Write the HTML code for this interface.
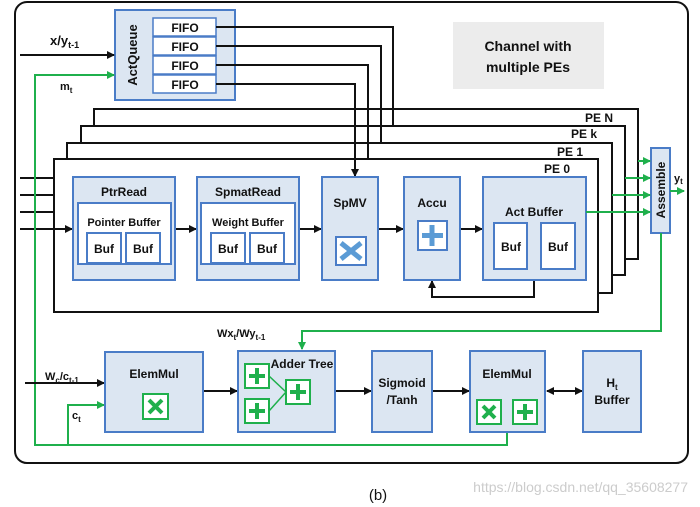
<!DOCTYPE html>
<html><head><style>body{margin:0;background:#fff}svg{display:block}text{font-family:"Liberation Sans",sans-serif;font-weight:bold;fill:#111}</style></head><body>
<svg width="700" height="507" viewBox="0 0 700 507" xmlns="http://www.w3.org/2000/svg">
<defs>
<marker id="a" markerWidth="8" markerHeight="8" refX="7" refY="4" orient="auto" markerUnits="userSpaceOnUse"><path d="M0,0L8,4L0,8z" fill="#111"/></marker>
<marker id="g" markerWidth="8" markerHeight="8" refX="7" refY="4" orient="auto" markerUnits="userSpaceOnUse"><path d="M0,0L8,4L0,8z" fill="#1fb04c"/></marker>
<marker id="s" markerWidth="8" markerHeight="8" refX="1" refY="4" orient="auto" markerUnits="userSpaceOnUse"><path d="M8,0L0,4L8,8z" fill="#111"/></marker>
</defs>
<rect x="15" y="2" width="673" height="461" rx="12" fill="#fff" stroke="#111" stroke-width="2"/>
<rect x="453" y="22" width="151" height="67" fill="#ececec"/>
<text x="528" y="51" font-size="14" text-anchor="middle">Channel with</text>
<text x="528" y="72" font-size="14" text-anchor="middle">multiple PEs</text>
<!-- ActQueue -->
<rect x="115" y="10" width="120" height="90" fill="#dce6f2" stroke="#4a7cc7" stroke-width="2"/>
<text transform="translate(137,55) rotate(-90)" font-size="13" text-anchor="middle">ActQueue</text>
<g fill="#fff" stroke="#4a7cc7" stroke-width="1.5">
<rect x="153" y="18" width="63" height="18"/><rect x="153" y="37" width="63" height="18"/><rect x="153" y="56" width="63" height="18"/><rect x="153" y="75" width="63" height="18"/></g>
<g font-size="12" text-anchor="middle"><text x="185" y="32">FIFO</text><text x="185" y="51">FIFO</text><text x="185" y="70">FIFO</text><text x="185" y="89">FIFO</text></g>
<text x="50" y="45" font-size="13">x/y<tspan font-size="9" dy="3">t-1</tspan></text>
<line x1="20" y1="55" x2="114" y2="55" stroke="#111" stroke-width="2" marker-end="url(#a)"/>
<text x="60" y="90" font-size="11">m<tspan font-size="8" dy="3">t</tspan></text>
<!-- PE stack -->
<g fill="#fff" stroke="#111" stroke-width="2">
<rect x="94" y="109" width="544" height="150"/>
<rect x="81" y="126" width="544" height="149"/>
<rect x="67" y="143" width="545" height="150"/>
<rect x="54" y="159" width="544" height="153"/></g>
<g font-size="12"><text x="585" y="122">PE N</text><text x="571" y="138">PE k</text><text x="557" y="156">PE 1</text><text x="544" y="173">PE 0</text></g>
<g fill="none" stroke="#111" stroke-width="2">
<polyline points="216,27 393,27 393,126"/><polyline points="216,46 381,46 381,143"/><polyline points="216,65 368,65 368,159"/>
<polyline points="216,84 355,84 355,176" marker-end="url(#a)"/>
<line x1="20" y1="178" x2="54" y2="178"/><line x1="20" y1="195" x2="54" y2="195"/><line x1="20" y1="212" x2="54" y2="212"/>
<line x1="20" y1="229" x2="72" y2="229" marker-end="url(#a)"/>
<line x1="175" y1="229" x2="196" y2="229" marker-end="url(#a)"/>
<line x1="299" y1="229" x2="321" y2="229" marker-end="url(#a)"/>
<line x1="378" y1="229" x2="403" y2="229" marker-end="url(#a)"/>
<line x1="460" y1="229" x2="482" y2="229" marker-end="url(#a)"/>
<polyline points="534,280 534,297 432,297 432,281" marker-end="url(#a)"/>
</g>
<g fill="#dce6f2" stroke="#4a7cc7" stroke-width="2">
<rect x="73" y="177" width="102" height="103"/><rect x="197" y="177" width="102" height="103"/>
<rect x="322" y="177" width="56" height="103"/><rect x="404" y="177" width="56" height="103"/><rect x="483" y="177" width="103" height="103"/></g>
<g fill="#fff" stroke="#4a7cc7" stroke-width="2">
<rect x="78" y="203" width="93" height="61"/><rect x="201" y="203" width="94" height="61"/>
<rect x="87" y="233" width="34" height="30"/><rect x="126" y="233" width="34" height="30"/>
<rect x="211" y="233" width="34" height="30"/><rect x="250" y="233" width="34" height="30"/>
<rect x="494" y="223" width="33" height="46"/><rect x="541" y="223" width="34" height="46"/>
<rect x="336" y="237" width="30" height="28"/><rect x="418" y="221" width="29" height="29"/></g>
<path d="M341,243L361,259M361,243L341,259" stroke="#5b9bd5" stroke-width="5"/>
<path d="M432,225V246M422,235.5H443" stroke="#5b9bd5" stroke-width="5"/>
<g font-size="12" text-anchor="middle">
<text x="124" y="196">PtrRead</text><text x="248" y="196">SpmatRead</text><text x="350" y="207">SpMV</text><text x="432" y="207">Accu</text><text x="534" y="216">Act Buffer</text>
<text x="124" y="226" font-size="11">Pointer Buffer</text><text x="248" y="226" font-size="11">Weight Buffer</text>
<text x="104" y="253">Buf</text><text x="143" y="253">Buf</text><text x="228" y="253">Buf</text><text x="267" y="253">Buf</text><text x="511" y="251">Buf</text><text x="558" y="251">Buf</text></g>
<!-- Assemble -->
<rect x="651" y="148" width="19" height="85" fill="#dce6f2" stroke="#4a7cc7" stroke-width="2"/>
<text transform="translate(665,190) rotate(-90)" font-size="12" text-anchor="middle">Assemble</text>
<g stroke="#1fb04c" stroke-width="2" fill="none">
<line x1="638" y1="161" x2="650" y2="161" marker-end="url(#g)"/><line x1="625" y1="178" x2="650" y2="178" marker-end="url(#g)"/>
<line x1="612" y1="195" x2="650" y2="195" marker-end="url(#g)"/><line x1="586" y1="212" x2="650" y2="212" marker-end="url(#g)"/>
<line x1="670" y1="191" x2="684" y2="191" marker-end="url(#g)"/>
<polyline points="661,233 661,331 302,331 302,349" marker-end="url(#g)"/>
<polyline points="114,75 35,75 35,445 507,445 507,432" marker-start="url(#g)" style="marker-start:none"/>
<line x1="35" y1="75" x2="114" y2="75" marker-end="url(#g)"/>
<polyline points="68,445 68,405 104,405" marker-end="url(#g)"/>
</g>
<text x="674" y="182" font-size="11">y<tspan font-size="8" dy="2">t</tspan></text>
<!-- bottom row -->
<text x="217" y="337" font-size="11">Wx<tspan font-size="8" dy="3">t</tspan><tspan dy="-3">/Wy</tspan><tspan font-size="8" dy="3">t-1</tspan></text>
<text x="45" y="380" font-size="11">W<tspan font-size="8" dy="3">c</tspan><tspan dy="-3">/c</tspan><tspan font-size="8" dy="3">t-1</tspan></text>
<text x="72" y="419" font-size="11">c<tspan font-size="8" dy="3">t</tspan></text>
<g fill="none" stroke="#111" stroke-width="2">
<line x1="25" y1="383" x2="104" y2="383" marker-end="url(#a)"/>
<line x1="203" y1="391" x2="237" y2="391" marker-end="url(#a)"/>
<line x1="335" y1="391" x2="371" y2="391" marker-end="url(#a)"/>
<line x1="432" y1="391" x2="469" y2="391" marker-end="url(#a)"/>
<line x1="547" y1="391" x2="582" y2="391" marker-start="url(#s)" marker-end="url(#a)"/>
</g>
<g fill="#dce6f2" stroke="#4a7cc7" stroke-width="2">
<rect x="105" y="352" width="98" height="80"/><rect x="238" y="351" width="97" height="81"/><rect x="372" y="351" width="60" height="81"/><rect x="470" y="351" width="75" height="81"/><rect x="583" y="351" width="58" height="81"/></g>
<g fill="#fff" stroke="#1fb04c" stroke-width="2">
<rect x="143" y="394" width="25" height="25"/><rect x="245" y="364" width="24" height="24"/><rect x="245" y="399" width="24" height="24"/><rect x="286" y="380" width="24" height="24"/>
<rect x="477" y="400" width="24" height="24"/><rect x="513" y="400" width="24" height="24"/></g>
<g stroke="#1fb04c" stroke-width="4" fill="none">
<path d="M149,400L162,413M162,400L149,413"/><path d="M483,406L495,418M495,406L483,418"/>
<path d="M257,368V384M249,376H265"/><path d="M257,403V419M249,411H265"/><path d="M298,384V400M290,392H306"/><path d="M525,404V420M517,412H533"/>
</g>
<path d="M269,376L286,392L269,411" stroke="#1fb04c" stroke-width="1.5" fill="none"/>
<g font-size="12" text-anchor="middle">
<text x="154" y="378">ElemMul</text><text x="302" y="368" font-size="12">Adder Tree</text><text x="402" y="387">Sigmoid</text><text x="402" y="404">/Tanh</text>
<text x="507" y="378">ElemMul</text><text x="612" y="387">H<tspan font-size="8" dy="3">t</tspan></text><text x="612" y="404">Buffer</text></g>
<text x="378" y="500" font-size="15" style="font-weight:normal" text-anchor="middle">(b)</text>
<text x="688" y="492" font-size="14" style="font-weight:normal;fill:#ccc" text-anchor="end">https://blog.csdn.net/qq_35608277</text>
</svg>
</body></html>
